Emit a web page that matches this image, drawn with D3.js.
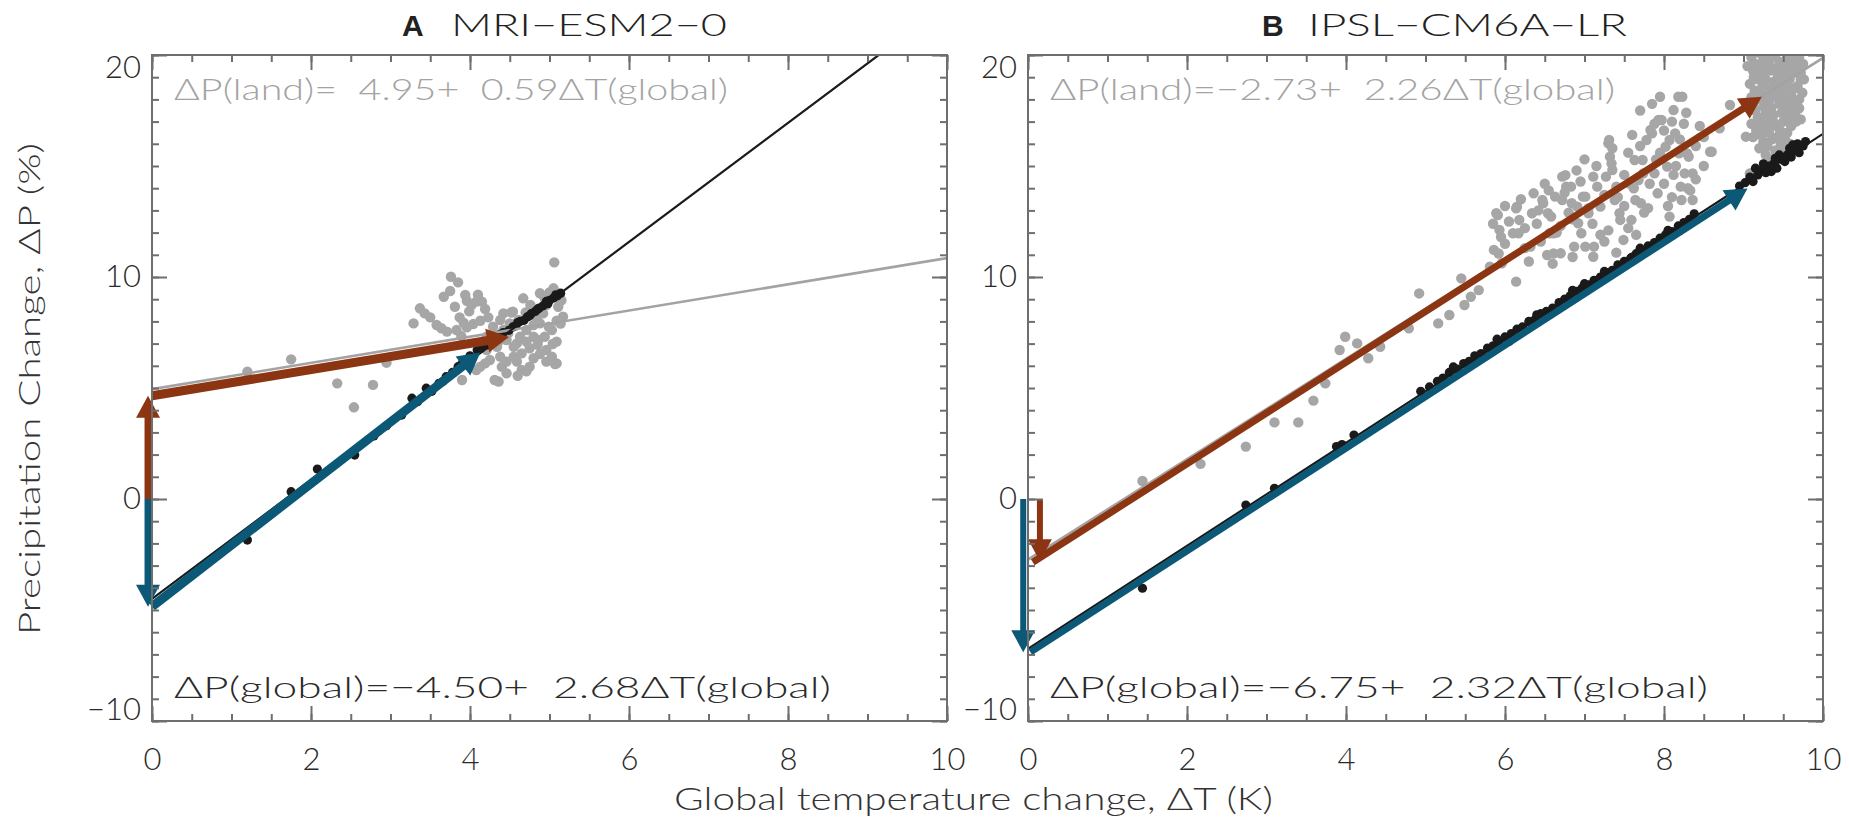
<!DOCTYPE html>
<html>
<head>
<meta charset="utf-8">
<script src="https://cdn.jsdelivr.net/npm/d3@7"></script>
<style>
  body { margin: 0; background: #fff; }
  svg { display: block; font-family: Lato, 'DejaVu Sans', sans-serif; font-weight: 300; }
  .axis line { stroke: #6e6e6e; stroke-width: 2; }
  .axis text { fill: #2a2a2a; font-size: 31px; font-family: Lato, 'DejaVu Sans', sans-serif; }
  .eq { white-space: pre; font-size: 29px; }
</style>
</head>
<body>
<svg width="1849" height="822"></svg>
<script>
const CHART_SIZE = { width: 1849, height: 822 };
const PANEL = { top: 55, width: 795, height: 666 };
const PANEL_LEFT = [152, 1028];

const GRAY = '#a6a6a6';
const BLACK = '#1a1a1a';
const RED = '#8c3512';
const BLUE = '#0c5877';

const X_DOMAIN = [0, 10];
const Y_DOMAIN = [-10, 20];
const X_TICKS = [0, 2, 4, 6, 8, 10];
const Y_TICKS = [-10, 0, 10, 20];

const PANEL_LETTERS = ['A', 'B'];
const MODELS = ['MRI\u2212ESM2\u22120', 'IPSL\u2212CM6A\u2212LR'];
const LAND_EQUATIONS = ['\u0394P(land)=  4.95+  0.59\u0394T(global)', '\u0394P(land)=\u22122.73+  2.26\u0394T(global)'];
const GLOBAL_EQUATIONS = ['\u0394P(global)=\u22124.50+  2.68\u0394T(global)', '\u0394P(global)=\u22126.75+  2.32\u0394T(global)'];
const LAND_FITS = [[4.95, 0.59], [-2.73, 2.26]];
const GLOBAL_FITS = [[-4.50, 2.68], [-6.75, 2.32]];

// MRI-ESM2-0 : [dT global, dP]
const MRI_LAND = [
  [1.20,5.73],[1.75,6.29],[2.33,5.21],[2.54,4.13],[2.78,5.14],[2.95,6.14],
  [3.29,7.91],[3.37,8.59],[3.43,8.36],[3.50,8.18],[3.58,7.84],[3.64,7.69],[3.71,7.54],
  [3.67,9.11],[3.75,9.37],[3.76,10.01],[3.85,9.76],[3.81,8.66],[3.94,9.19],[3.96,8.93],
  [4.02,8.74],[4.08,8.89],[4.15,8.89],[4.19,8.56],[4.23,8.18],[3.87,8.18],[3.92,7.94],
  [3.96,7.73],[4.04,7.88],[4.13,8.03],[3.83,7.61],[3.89,7.34],[4.54,8.44],[4.67,9.04],
  [4.76,8.74],[4.88,9.27],[4.94,9.04],[5.05,9.49],[5.13,9.19],[5.11,8.66],[5.17,8.21],
  [5.09,8.03],[5.03,7.61],[5.09,7.09],[4.96,6.71],[4.88,6.53],[5.09,6.11],[4.75,5.96],
  [4.65,5.81],[4.55,6.41],[4.59,7.01],[4.71,7.61],[4.80,7.31],[4.50,7.91],[4.42,7.61],
  [4.38,7.16],[4.34,6.86],[4.38,6.41],[4.36,5.29],[4.46,6.19],[4.13,5.96],[4.08,5.81],
  [3.90,5.36],[4.21,6.71],[4.27,7.01],[4.61,8.06],[4.84,8.21],[4.92,8.36],[4.96,8.74],
  [4.86,7.16],[4.94,7.31],[4.99,7.76],[4.75,6.79],[4.65,6.56],[4.55,6.86],[4.46,7.16],
  [4.63,7.31],[4.71,7.09],[4.88,7.91],[4.80,7.84],[4.48,7.46],[4.38,8.06],[4.29,7.76],
  [4.42,8.36],[4.31,7.39],[4.21,7.31],[4.25,6.26],[4.19,6.11],[4.46,5.66],[4.59,6.19],
  [4.80,6.34],[4.96,6.19],[5.03,6.41],[4.00,6.10],[5.06,10.66],[4.31,5.36],[4.71,5.75],
  [5.07,6.08],[5.04,6.98],[5.14,7.90],[4.52,8.40],[4.10,9.20],[3.99,8.45],[4.70,8.40],
  [5.00,9.30],[5.15,8.95],[4.85,6.95],[4.60,5.55],[4.40,5.95]
];
const MRI_GLOBAL = [
  [1.20,-1.85],[1.75,0.33],[2.08,1.35],[2.55,1.98],[2.79,2.84],[2.95,3.30],[3.14,3.78],
  [3.34,4.38],[3.27,4.54],[3.45,4.99],[3.52,4.85],[3.61,5.21],[3.70,5.51],[3.66,5.30],
  [3.78,5.70],[3.85,5.96],[3.90,6.10],[3.94,6.26],[4.00,6.45],[4.09,6.71],[4.14,6.80],
  [4.22,6.94],[4.28,7.20],[4.37,7.40],[4.42,7.50],[4.49,7.60],[4.54,7.75],[4.58,7.80],
  [4.63,8.00],[4.68,8.05],[4.72,8.20],[4.77,8.35],[4.82,8.45],[4.87,8.60],[4.92,8.70],
  [4.96,8.90],[5.00,8.95],[5.05,9.05],[5.10,9.15],[5.14,9.27],[5.08,9.20],[4.98,8.80],
  [4.85,8.55],[4.75,8.25],[4.60,7.95]
];
const MRI_LAND_ARROWS = [[[-0.05, 0], [-0.05, 4.65]], [[0, 4.65], [4.49, 7.30]]];
const MRI_GLOBAL_ARROWS = [[[-0.05, 0], [-0.05, -4.85]], [[0, -4.85], [4.13, 6.60]]];

// IPSL-CM6A-LR : [dT global, dP]
const IPSL_LAND = [
  [1.44,0.81],[2.17,1.58],[2.74,2.36],[3.10,3.45],[3.40,3.45],[3.59,4.43],[3.74,5.21],
  [3.92,6.71],[3.99,7.31],[4.14,7.01],[4.28,6.34],[4.43,6.86],[4.79,7.69],[4.92,9.26],
  [5.16,7.91],[5.30,8.29],[5.45,9.94],[5.49,8.74],[5.57,9.11],[5.67,9.41],
  [5.91,12.79],[5.93,12.12],[5.86,11.22],[5.96,10.62],[6.15,13.17],[6.17,11.97],[6.34,12.87],
  [6.36,13.77],[6.48,13.32],[6.58,12.72],[6.56,11.97],[6.63,13.62],[6.72,14.52],[6.77,14.07],
  [6.84,13.32],[6.92,12.42],[6.96,11.97],[7.01,11.37],[7.11,10.91],[6.87,11.37],[6.70,11.07],
  [6.53,10.99],[7.01,13.62],[7.11,14.52],[7.16,14.07],[7.20,13.17],[7.30,16.02],[7.32,15.42],
  [7.35,14.82],[7.40,14.07],[7.44,12.87],[7.49,11.67],[7.59,12.57],[7.64,13.47],[7.68,14.37],
  [7.73,15.27],[7.78,16.17],[7.83,16.62],[7.88,14.67],[7.92,13.77],[7.95,18.12],[7.97,17.07],
  [8.02,15.87],[8.04,14.97],[8.07,12.72],[8.12,17.52],[8.14,16.47],[8.19,15.57],[8.21,14.07],
  [8.23,18.12],[8.26,14.67],[8.31,15.42],[8.36,13.47],[8.36,14.67],[8.60,15.64],[8.83,17.75],
  [9.03,16.32],[9.08,14.67],
  [5.81,10.46],[5.92,11.06],[5.89,12.87],[6.10,11.97],[6.14,13.09],[6.14,9.79],[6.18,12.57],
  [6.32,11.37],[6.47,13.47],[6.54,12.87],[6.61,11.97],[6.61,11.06],[6.72,13.47],[6.76,14.59],
  [6.83,14.07],[6.91,13.17],[6.98,13.62],[7.05,12.87],[7.12,11.37],[7.27,14.52],[7.31,16.17],
  [7.34,15.12],[7.38,13.47],[7.45,12.57],[7.56,14.22],[7.63,15.27],[7.71,13.32],[7.74,14.67],
  [7.85,16.47],[7.93,17.07],[8.07,16.17],[8.18,18.12],[8.22,13.47],[8.29,15.57],[8.58,15.64],
  [6.25,12.2],[6.40,12.4],[6.45,11.6],[6.70,12.3],[6.80,12.9],[6.90,14.8],[7.00,15.3],
  [7.10,12.4],[7.25,13.7],[7.30,12.1],[7.50,13.2],[7.55,15.6],[7.60,16.4],[7.65,11.9],
  [7.80,13.1],[7.90,15.3],[8.00,14.2],[8.10,13.6],[8.15,15.0],[8.25,16.9],[8.30,14.0],
  [8.40,15.9],[8.45,16.8],[8.00,16.6],[7.70,17.5],[7.85,17.8],[6.60,10.6],[6.30,10.7],[6.00,11.5],
  [6.05,12.5],[6.20,13.5],[6.25,11.3],[6.42,13.0],[6.50,14.2],[6.65,12.0],[6.75,13.8],[6.85,12.6],
  [6.95,14.3],[7.05,13.1],[7.15,15.0],[7.20,11.9],[7.35,15.8],[7.42,13.6],[7.50,14.6],[7.55,12.2],
  [7.62,14.0],[7.70,15.9],[7.75,12.9],[7.82,14.2],[7.88,16.9],[7.95,15.6],[8.05,13.2],[8.10,17.0],
  [8.12,14.6],[8.20,16.2],[8.28,17.4],[8.33,13.9],[8.40,14.4],[8.50,16.3],[8.50,15.0],[8.70,16.7],
  [6.55,13.9],[6.00,13.2],[5.85,12.4],[5.95,11.8],[7.25,11.6],[6.85,10.9],[7.40,11.1],
  [9.10,19.9],[9.20,20.1],[9.30,20.2],[9.40,20.0],[9.50,20.2],[9.60,20.1],[9.70,19.9],[9.75,19.6],
  [9.12,19.3],[9.22,19.5],[9.32,19.6],[9.42,19.4],[9.52,19.6],[9.62,19.5],[9.72,19.2],
  [9.08,18.7],[9.18,18.9],[9.28,18.9],[9.38,18.8],[9.48,19.0],[9.58,18.9],[9.68,18.6],[9.76,18.9],
  [9.10,18.1],[9.20,18.3],[9.30,18.2],[9.40,18.4],[9.50,18.3],[9.60,18.2],[9.70,18.0],
  [9.15,17.5],[9.25,17.7],[9.35,17.6],[9.45,17.8],[9.55,17.6],[9.65,17.4],[9.72,17.1],
  [9.10,16.9],[9.20,17.0],[9.30,17.1],[9.40,16.9],[9.50,17.0],[9.60,16.8],
  [9.12,16.3],[9.22,16.4],[9.32,16.5],[9.42,16.3],[9.52,16.2],[9.58,16.0],
  [9.20,15.8],[9.30,15.9],[9.40,15.7],[9.45,15.3],[9.35,15.2],[9.50,15.6],[9.05,19.5],
  [9.15,19.6],[9.25,19.8],[9.35,19.9],[9.45,19.7],[9.55,19.9],[9.65,19.7],[9.73,19.5],
  [9.13,19.0],[9.23,19.2],[9.33,19.3],[9.43,19.1],[9.53,19.3],[9.63,19.2],[9.72,18.9],
  [9.14,18.4],[9.24,18.6],[9.34,18.5],[9.44,18.6],[9.54,18.6],[9.64,18.5],[9.74,18.3],
  [9.12,17.8],[9.22,18.0],[9.32,17.9],[9.42,18.1],[9.52,18.0],[9.62,17.8],[9.70,17.6],
  [9.18,17.2],[9.28,17.4],[9.38,17.3],[9.48,17.4],[9.58,17.2],[9.66,17.0],
  [9.16,16.6],[9.26,16.7],[9.36,16.8],[9.46,16.6],[9.55,16.5],[9.25,16.1],[9.36,16.2],[9.47,16.0],
  [9.28,15.5],[9.40,15.4],[9.55,15.8]
];
const IPSL_GLOBAL = [
  [1.44,-4.02],[2.74,-0.27],[3.10,0.48],[3.88,2.36],[3.95,2.45],[4.10,2.88],
  [4.94,4.85],[5.05,5.05],[5.15,5.30],[5.22,5.45],[5.30,5.70],[5.40,5.85],[5.48,6.10],
  [5.55,6.20],[5.62,6.45],[5.70,6.55],[5.78,6.80],[5.85,6.90],[5.92,7.10],[6.00,7.30],
  [6.08,7.45],[6.15,7.65],[6.22,7.75],[6.30,8.00],[6.38,8.10],[6.45,8.35],[6.52,8.45],
  [6.60,8.60],[6.68,8.85],[6.75,9.00],[6.82,9.15],[6.90,9.35],[6.97,9.50],[7.05,9.65],
  [7.12,9.85],[7.20,10.00],[7.28,10.20],[7.35,10.30],[7.42,10.55],[7.50,10.70],[7.58,10.85],
  [7.65,11.05],[7.72,11.20],[7.80,11.40],[7.88,11.55],[7.95,11.75],[8.02,11.90],[8.10,12.05],
  [8.18,12.30],[8.25,12.45],[8.32,12.60],[8.38,12.85],[5.60,6.20],[6.05,7.10],[6.50,8.20],
  [7.00,9.70],[7.60,10.90],[8.20,12.10],[8.35,12.50],[5.35,5.95],[5.90,7.20],[6.40,8.30],
  [6.85,9.40],[7.25,10.25],[7.70,11.30],[8.05,12.10],
  [8.95,14.10],[9.02,14.25],[9.08,14.50],[9.12,14.30],[9.18,14.60],[9.22,14.80],[9.28,14.70],
  [9.32,15.00],[9.38,15.10],[9.42,14.90],[9.48,15.30],[9.52,15.20],[9.55,15.50],[9.60,15.40],
  [9.65,15.70],[9.70,15.60],[9.75,15.90],[9.78,16.10],[9.25,15.10],[9.35,14.75],[9.45,15.50],
  [9.58,15.80],[9.68,16.00],[9.15,14.90],[9.40,15.35],[9.62,15.95]
];
const IPSL_LAND_ARROWS = [[[0.15, 0], [0.15, -2.80]], [[0.06, -2.85], [9.23, 18.12]]];
const IPSL_GLOBAL_ARROWS = [[[-0.06, 0], [-0.06, -6.90]], [[0.03, -6.90], [9.05, 13.99]]];

const svg = d3.select('svg')
  .attr('width', CHART_SIZE.width)
  .attr('height', CHART_SIZE.height);

const drawArrow = function(g, x, y, seg, color, width) {
  const x0 = x(seg[0][0]), y0 = y(seg[0][1]);
  const x1 = x(seg[1][0]), y1 = y(seg[1][1]);
  const len = Math.hypot(x1 - x0, y1 - y0);
  const ux = (x1 - x0) / len, uy = (y1 - y0) / len;
  const HL = 22, HW = 12;
  const bx = x1 - ux * HL, by = y1 - uy * HL;
  g.append('line')
    .attr('x1', x0).attr('y1', y0)
    .attr('x2', bx + ux * 2).attr('y2', by + uy * 2)
    .attr('stroke', color)
    .attr('stroke-width', width);
  g.append('path')
    .attr('d', d3.line()([[x1, y1], [bx - uy * HW, by + ux * HW], [bx + uy * HW, by - ux * HW]]) + 'Z')
    .attr('fill', color);
};

const drawPanel = function(i, land, global, landArrows, globalArrows) {
  const W = PANEL.width, H = PANEL.height;
  const g = svg.append('g')
    .attr('transform', `translate(${PANEL_LEFT[i]},${PANEL.top})`);

  const x = d3.scaleLinear().domain(X_DOMAIN).range([0, W]);
  const y = d3.scaleLinear().domain(Y_DOMAIN).range([H, 0]);

  g.append('clipPath').attr('id', `clip${i}`)
    .append('rect').attr('width', W).attr('height', H);

  const plot = g.append('g').attr('clip-path', `url(#clip${i})`);

  plot.selectAll('circle.land').data(land).enter()
    .append('circle').attr('class', 'land')
    .attr('cx', d => x(d[0])).attr('cy', d => y(d[1]))
    .attr('r', 5.2).attr('fill', GRAY);

  plot.selectAll('circle.global').data(global).enter()
    .append('circle').attr('class', 'global')
    .attr('cx', d => x(d[0])).attr('cy', d => y(d[1]))
    .attr('r', 4.6).attr('fill', BLACK);

  const fitLine = fit => d3.line()
    .x(t => x(t))
    .y(t => y(fit[0] + fit[1] * t))(X_DOMAIN);

  plot.append('path').attr('d', fitLine(LAND_FITS[i]))
    .attr('stroke', '#a3a3a3').attr('stroke-width', 2.6).attr('fill', 'none');
  plot.append('path').attr('d', fitLine(GLOBAL_FITS[i]))
    .attr('stroke', BLACK).attr('stroke-width', 2.2).attr('fill', 'none');

  // arrows: vertical shafts a bit thinner than diagonal ones
  const vWidth = i === 0 ? 7 : 6;
  const dWidth = i === 0 ? 9 : 7;
  drawArrow(g, x, y, landArrows[0], RED, vWidth);
  drawArrow(g, x, y, globalArrows[0], BLUE, vWidth);
  drawArrow(g, x, y, landArrows[1], RED, dWidth);
  drawArrow(g, x, y, globalArrows[1], BLUE, dWidth);

  // box + inward ticks on all four sides
  g.append('rect').attr('width', W).attr('height', H)
    .attr('fill', 'none').attr('stroke', '#6e6e6e').attr('stroke-width', 2);

  const noDomain = a => a.select('.domain').remove();
  const minorX = x.ticks(20), minorY = y.ticks(30);

  g.append('g').attr('class', 'axis').attr('transform', `translate(0,${H})`)
    .call(d3.axisBottom(x).tickValues(minorX).tickSize(-7).tickFormat('')).call(noDomain);
  g.append('g').attr('class', 'axis')
    .call(d3.axisTop(x).tickValues(minorX).tickSize(-7).tickFormat('')).call(noDomain);
  g.append('g').attr('class', 'axis')
    .call(d3.axisLeft(y).tickValues(minorY).tickSize(-7).tickFormat('')).call(noDomain);
  g.append('g').attr('class', 'axis').attr('transform', `translate(${W},0)`)
    .call(d3.axisRight(y).tickValues(minorY).tickSize(-7).tickFormat('')).call(noDomain);

  g.append('g').attr('class', 'axis').attr('transform', `translate(0,${H})`)
    .call(d3.axisBottom(x).tickValues(X_TICKS).tickSize(-15).tickPadding(27)).call(noDomain);
  g.append('g').attr('class', 'axis')
    .call(d3.axisTop(x).tickValues(X_TICKS).tickSize(-15).tickFormat('')).call(noDomain);
  g.append('g').attr('class', 'axis').attr('transform', `translate(${W},0)`)
    .call(d3.axisRight(y).tickValues(Y_TICKS).tickSize(-15).tickFormat('')).call(noDomain);

  const yAxis = g.append('g').attr('class', 'axis')
    .call(d3.axisLeft(y).tickValues(Y_TICKS).tickSize(-15).tickPadding(11)
      .tickFormat(d => d < 0 ? '\u2212' + Math.abs(d) : d))
    .call(noDomain);
  // end labels sit a little inside the box, as in the print
  yAxis.selectAll('text')
    .attr('y', d => d === Y_DOMAIN[1] ? 13 : d === Y_DOMAIN[0] ? -11 : 0);

  // equations
  g.append('text').attr('class', 'eq')
    .attr('x', 22).attr('y', 45)
    .attr('fill', '#a3a3a3')
    .attr('textLength', [554, 565][i]).attr('lengthAdjust', 'spacingAndGlyphs')
    .text(LAND_EQUATIONS[i]);
  g.append('text').attr('class', 'eq')
    .attr('x', 22).attr('y', H - 23)
    .attr('fill', '#2a2a2a')
    .attr('textLength', [657, 658][i]).attr('lengthAdjust', 'spacingAndGlyphs')
    .text(GLOBAL_EQUATIONS[i]);

  // title
  g.append('text')
    .attr('x', [250, 234][i]).attr('y', 36 - PANEL.top)
    .attr('font-family', "'Liberation Sans', Arial, sans-serif")
    .attr('font-weight', 700).attr('font-size', 30).attr('fill', '#222')
    .text(PANEL_LETTERS[i]);
  g.append('text')
    .attr('x', [299, 280][i]).attr('y', 36 - PANEL.top)
    .attr('font-size', 31).attr('fill', '#222')
    .attr('textLength', [276, 319][i]).attr('lengthAdjust', 'spacingAndGlyphs')
    .text(MODELS[i]);
};

drawPanel(0, MRI_LAND, MRI_GLOBAL, MRI_LAND_ARROWS, MRI_GLOBAL_ARROWS);
drawPanel(1, IPSL_LAND, IPSL_GLOBAL, IPSL_LAND_ARROWS, IPSL_GLOBAL_ARROWS);

svg.append('text')
  .attr('transform', 'translate(40,389) rotate(-90)')
  .attr('text-anchor', 'middle')
  .attr('font-size', 30).attr('fill', '#333')
  .attr('textLength', 492).attr('lengthAdjust', 'spacingAndGlyphs')
  .text('Precipitation Change, \u0394P (%)');

svg.append('text')
  .attr('x', 674).attr('y', 810)
  .attr('font-size', 31).attr('fill', '#333')
  .attr('textLength', 599).attr('lengthAdjust', 'spacingAndGlyphs')
  .text('Global temperature change, \u0394T (K)');
</script>
</body>
</html>
